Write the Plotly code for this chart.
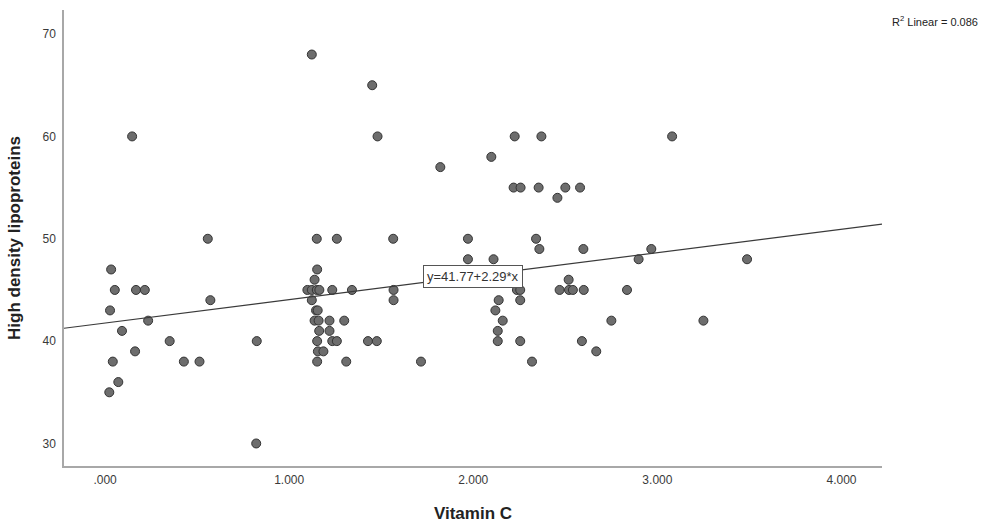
import plotly.graph_objects as go

# Vitamin C (x) and HDL (y)
vitamin_c = [
    0.023, 0.027, 0.033, 0.042, 0.053, 0.072, 0.092, 0.147, 0.163, 0.168,
    0.216, 0.234, 0.351, 0.428, 0.513, 0.558, 0.572, 0.821, 0.824,
    1.099, 1.123, 1.150, 1.164, 1.234, 1.341, 1.567,
    1.123, 1.152, 1.138, 1.123, 1.146, 1.155,
    1.138, 1.160, 1.219, 1.299,
    1.163, 1.219,
    1.152, 1.234, 1.259, 1.428, 1.476,
    1.156, 1.186,
    1.152, 1.310,
    1.150, 1.259, 1.565,
    1.451, 1.480, 1.567, 1.716, 1.821,
    1.971, 2.341, 1.971, 2.110, 2.098, 2.225, 2.370,
    2.219, 2.257, 2.355, 2.500, 2.580, 2.457,
    2.359, 2.598, 2.518,
    2.237, 2.255, 2.469, 2.520, 2.541, 2.600, 2.835,
    2.138, 2.255, 2.120,
    2.160, 2.750, 3.250,
    2.133, 2.133, 2.255, 2.590,
    2.668, 2.319,
    2.898, 3.487, 2.967, 3.080,
]
hdl = [
    35, 43, 47, 38, 45, 36, 41, 60, 39, 45,
    45, 42, 40, 38, 38, 50, 44, 30, 40,
    45, 45, 45, 45, 45, 45, 45,
    68, 47, 46, 44, 43, 43,
    42, 42, 42, 42,
    41, 41,
    40, 40, 40, 40, 40,
    39, 39,
    38, 38,
    50, 50, 50,
    65, 60, 44, 38, 57,
    50, 50, 48, 48, 58, 60, 60,
    55, 55, 55, 55, 55, 54,
    49, 49, 46,
    45, 45, 45, 45, 45, 45, 45,
    44, 44, 43,
    42, 42, 42,
    41, 40, 40, 40,
    39, 38,
    48, 48, 49, 60,
]

intercept = 41.77
slope = 2.29
r2 = 0.086

x_range = [-0.223, 4.22]
y_range = [27.8, 72.35]
x_tickvals = [0, 1, 2, 3, 4]
x_ticktext = [".000", "1.000", "2.000", "3.000", "4.000"]
y_tickvals = [30, 40, 50, 60, 70]

FONT = "Arial, Liberation Sans, sans-serif"

W, H = 983, 523
ml, mr, mt, mb = 64, 101, 10, 57
pw = W - ml - mr
ph = H - mt - mb

fig = go.Figure()

fig.add_trace(go.Scatter(
    x=vitamin_c, y=hdl, mode="markers",
    marker=dict(size=9, color="#6d6d6d", line=dict(color="#333333", width=1)),
    showlegend=False, hoverinfo="x+y",
))

fig.add_trace(go.Scatter(
    x=x_range, y=[intercept + slope * v for v in x_range], mode="lines",
    line=dict(color="#3a3a3a", width=1.2), showlegend=False, hoverinfo="skip",
))

fig.add_annotation(
    x=2.0, y=intercept + slope * 2.0, xref="x", yref="y",
    text=f"y={intercept:.2f}+{slope:.2f}*x", showarrow=False,
    font=dict(family=FONT, size=13, color="#333333"),
    bgcolor="white", bordercolor="#555555", borderwidth=1, borderpad=3,
)

fig.add_annotation(
    x=(980 - ml) / pw, y=1 - (21 - mt) / ph, xref="paper", yref="paper",
    text=f"R<sup>2</sup> Linear = {r2:.3f}", showarrow=False,
    font=dict(family=FONT, size=11, color="#222222"),
    xanchor="right", yanchor="middle",
)

fig.update_layout(
    width=W, height=H,
    margin=dict(l=ml, r=mr, t=mt, b=mb),
    plot_bgcolor="white", paper_bgcolor="white",
    font=dict(family=FONT, color="#333333"),
    xaxis=dict(
        range=x_range, tickvals=x_tickvals, ticktext=x_ticktext,
        showgrid=False, zeroline=False, showline=True, linecolor="#a8a8a8", linewidth=1.5,
        ticks="", tickfont=dict(size=12, color="#3a3a3a"), ticklabelstandoff=2,
        title=dict(text="<b>Vitamin C</b>", font=dict(size=17, color="#222222"), standoff=22),
        automargin=False,
    ),
    yaxis=dict(
        range=y_range, tickvals=y_tickvals,
        showgrid=False, zeroline=False, showline=True, linecolor="#a8a8a8", linewidth=1.5,
        ticks="", tickfont=dict(size=12, color="#3a3a3a"), ticklabelstandoff=4,
        title=dict(text="<b>High density lipoproteins</b>", font=dict(size=17, color="#222222"), standoff=18),
        automargin=False,
    ),
)

fig.write_html(
    "out.html",
    config={"displayModeBar": False},
    post_script="document.body.style.margin='0px';",
)
